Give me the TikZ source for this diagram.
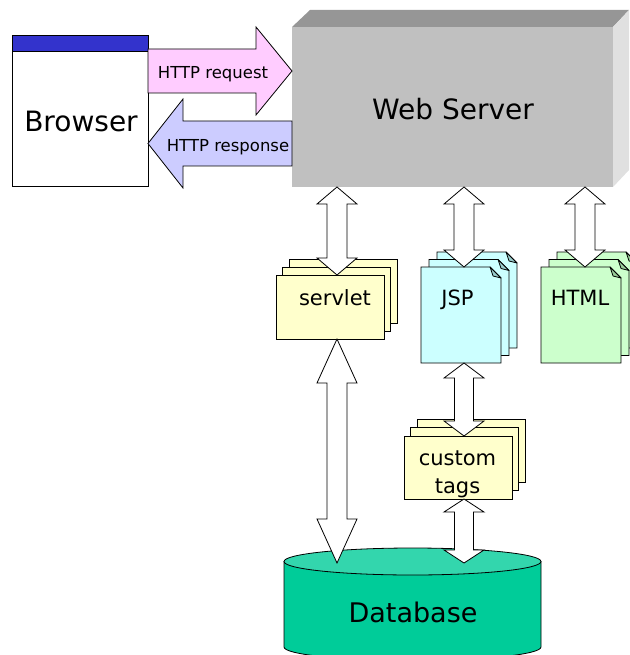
\documentclass[tikz,border=0pt]{standalone}
\usepackage{fontspec}
\setmainfont{DejaVu Sans}
\usetikzlibrary{calc}
\definecolor{reqpink}{HTML}{FFCCFF}
\definecolor{resplav}{HTML}{CCCCFF}
\definecolor{barblue}{HTML}{3333CC}
\definecolor{srvfront}{HTML}{C0C0C0}
\definecolor{srvtop}{HTML}{969696}
\definecolor{srvside}{HTML}{E0E0E0}
\definecolor{docyellow}{HTML}{FFFFCC}
\definecolor{doccyan}{HTML}{CCFFFF}
\definecolor{cyanfold}{HTML}{99CCCC}
\definecolor{docgreen}{HTML}{CCFFCC}
\definecolor{greenfold}{HTML}{99CC99}
\definecolor{dbbody}{HTML}{00CC99}
\definecolor{dbtop}{HTML}{33D6AD}
\tikzset{
  outline/.style={draw=black,line width=0.8pt},
  blockarrow/.style={outline,fill=white,line join=miter},
  box/.style={inner sep=0pt,outer sep=0pt},
  biglbl/.style={inner sep=0pt,anchor=base,font=\fontsize{28}{32}\selectfont},
  dblbl/.style={inner sep=0pt,anchor=base,font=\fontsize{27}{32}\selectfont},
  httplbl/.style={inner sep=0pt,anchor=base,font=\fontsize{16.5}{20}\selectfont},
  doclbl/.style={inner sep=0pt,anchor=base,font=\fontsize{21}{28}\selectfont},
}
% vertical double block arrow: top, bottom, head length, shaft half width, head half width
\newcommand\vdarrow[5]{%
  \draw[blockarrow] let \p1=(#1), \p2=(#2) in
    (\x1,\y1) -- (\x1+#5pt,\y1-#3pt) -- (\x1+#4pt,\y1-#3pt) -- (\x1+#4pt,\y2+#3pt)
    -- (\x1+#5pt,\y2+#3pt) -- (\x1,\y2) -- (\x1-#5pt,\y2+#3pt) -- (\x1-#4pt,\y2+#3pt)
    -- (\x1-#4pt,\y1-#3pt) -- (\x1-#5pt,\y1-#3pt) -- cycle;}
% plain page: x0 y0 w h fill
\newcommand\pagerect[5]{\filldraw[outline,fill=#5] (#1,#2) rectangle ++(#3,#4);}
% dog-eared page: x0 y0 w h fill foldfill
\newcommand\dogpage[6]{%
  \filldraw[outline,fill=#5,line join=miter] (#1,#2) -- (#1+#3-11,#2) -- (#1+#3,#2+11)
    -- (#1+#3,#2+#4) -- (#1,#2+#4) -- cycle;
  \filldraw[outline,fill=#6,line join=round] (#1+#3-11,#2) -- (#1+#3,#2+11) -- (#1+#3-8,#2+9) -- cycle;}
\begin{document}
\begin{tikzpicture}[x=1pt,y=-1pt]
\useasboundingbox (0,0) rectangle (629,655);

% Web server box
\node[box,fill=srvfront,minimum width=321pt,minimum height=160pt] (server) at (452.5,107) {};
\fill[srvtop] (server.north west) -- ++(18,-17) -- ($(server.north east)+(16,-17)$) -- (server.north east) -- cycle;
\fill[srvside] (server.north east) -- ++(16,-17) -- ($(server.south east)+(16,-17)$) -- (server.south east) -- cycle;
\node[biglbl] (serverlbl) at (453,120) {Web Server};

% Browser
\node[box,outline,fill=white,minimum width=136pt,minimum height=151pt] (browser) at (80,110.5) {};
\filldraw[outline,fill=barblue] (browser.north west) rectangle ($(browser.north east)+(0,16)$);
\node[biglbl] (browserlbl) at (81,132) {Browser};

% HTTP arrows
\coordinate (reqy) at (0,71);
\coordinate (respy) at (0,143.5);
\draw[blockarrow,fill=reqpink] let \p1=(browser.east |- reqy), \p2=(server.west |- reqy) in
  (\x1,\y1+22pt) -- (\x2-36pt,\y1+22pt) -- (\x2-36pt,\y1+44pt) -- (\x2,\y1)
  -- (\x2-36pt,\y1-44pt) -- (\x2-36pt,\y1-22pt) -- (\x1,\y1-22pt) -- cycle;
\node[httplbl] (reqlbl) at (213,79) {HTTP request};
\draw[blockarrow,fill=resplav] let \p1=(server.west |- respy), \p2=(browser.east |- respy) in
  (\x1,\y1+22.5pt) -- (\x2+35pt,\y1+22.5pt) -- (\x2+35pt,\y1+44.5pt) -- (\x2,\y1)
  -- (\x2+35pt,\y1-44.5pt) -- (\x2+35pt,\y1-22.5pt) -- (\x1,\y1-22.5pt) -- cycle;
\node[httplbl] (resplbl) at (228,152) {HTTP response};

% servlet stack
\pagerect{289}{259}{108}{64}{docyellow}
\pagerect{282.5}{267}{108}{64}{docyellow}
\node[box,outline,fill=docyellow,minimum width=108pt,minimum height=64pt] (servlet) at (330,307) {};
\node[doclbl] (servletlbl) at (335,305) {servlet};

% JSP stack
\dogpage{437}{252}{80}{96}{doccyan}{cyanfold}
\dogpage{429}{259.5}{80}{96}{doccyan}{cyanfold}
\dogpage{421}{267}{80}{96}{doccyan}{cyanfold}
\node[box,minimum width=80pt,minimum height=96pt] (jsp) at (461,315) {};
\node[doclbl] (jsplbl) at (457.5,305) {JSP};

% HTML stack
\dogpage{557}{252}{80}{96}{docgreen}{greenfold}
\dogpage{549}{259.5}{80}{96}{docgreen}{greenfold}
\dogpage{541}{267}{80}{96}{docgreen}{greenfold}
\node[box,minimum width=80pt,minimum height=96pt] (html) at (581,315) {};
\node[doclbl] (htmllbl) at (580,305) {HTML};

% custom tags stack
\pagerect{417}{419}{108}{63}{docyellow}
\pagerect{410.5}{427.5}{108}{63}{docyellow}
\node[box,outline,fill=docyellow,minimum width=108pt,minimum height=63pt] (tags) at (458,467.5) {};
\node[doclbl] (customlbl) at (457.5,465) {custom};
\node[doclbl] (tagslbl) at (457.5,493) {tags};

% Database
\node[box,minimum width=257pt,minimum height=85.5pt] (db) at (412.5,604.25) {};
\filldraw[outline,fill=dbbody] (db.north west) -- (db.south west)
  arc[start angle=180,end angle=360,x radius=128.5pt,y radius=13.5pt] -- (db.north east) -- cycle;
\filldraw[outline,fill=dbtop] (db.north) ellipse [x radius=128.5pt,y radius=13.5pt];
\node[dblbl] (dblbl) at (413,622) {Database};
\coordinate (dbtip) at ($(db.north)+(0,1.5)$);

% vertical double arrows
\coordinate (ax1) at (337,0);
\coordinate (ax2) at (464,0);
\coordinate (ax3) at (585,0);
\vdarrow{server.south -| ax1}{servlet.north -| ax1}{17}{10}{20}
\vdarrow{server.south -| ax2}{jsp.north -| ax2}{17}{10}{20}
\vdarrow{server.south -| ax3}{html.north -| ax3}{17}{10}{20}
\vdarrow{servlet.south -| ax1}{dbtip -| ax1}{44}{10}{20}
\vdarrow{jsp.south -| ax2}{tags.north -| ax2}{15}{9.5}{20}
\vdarrow{tags.south -| ax2}{dbtip -| ax2}{13}{9.5}{20}
\end{tikzpicture}
\end{document}
